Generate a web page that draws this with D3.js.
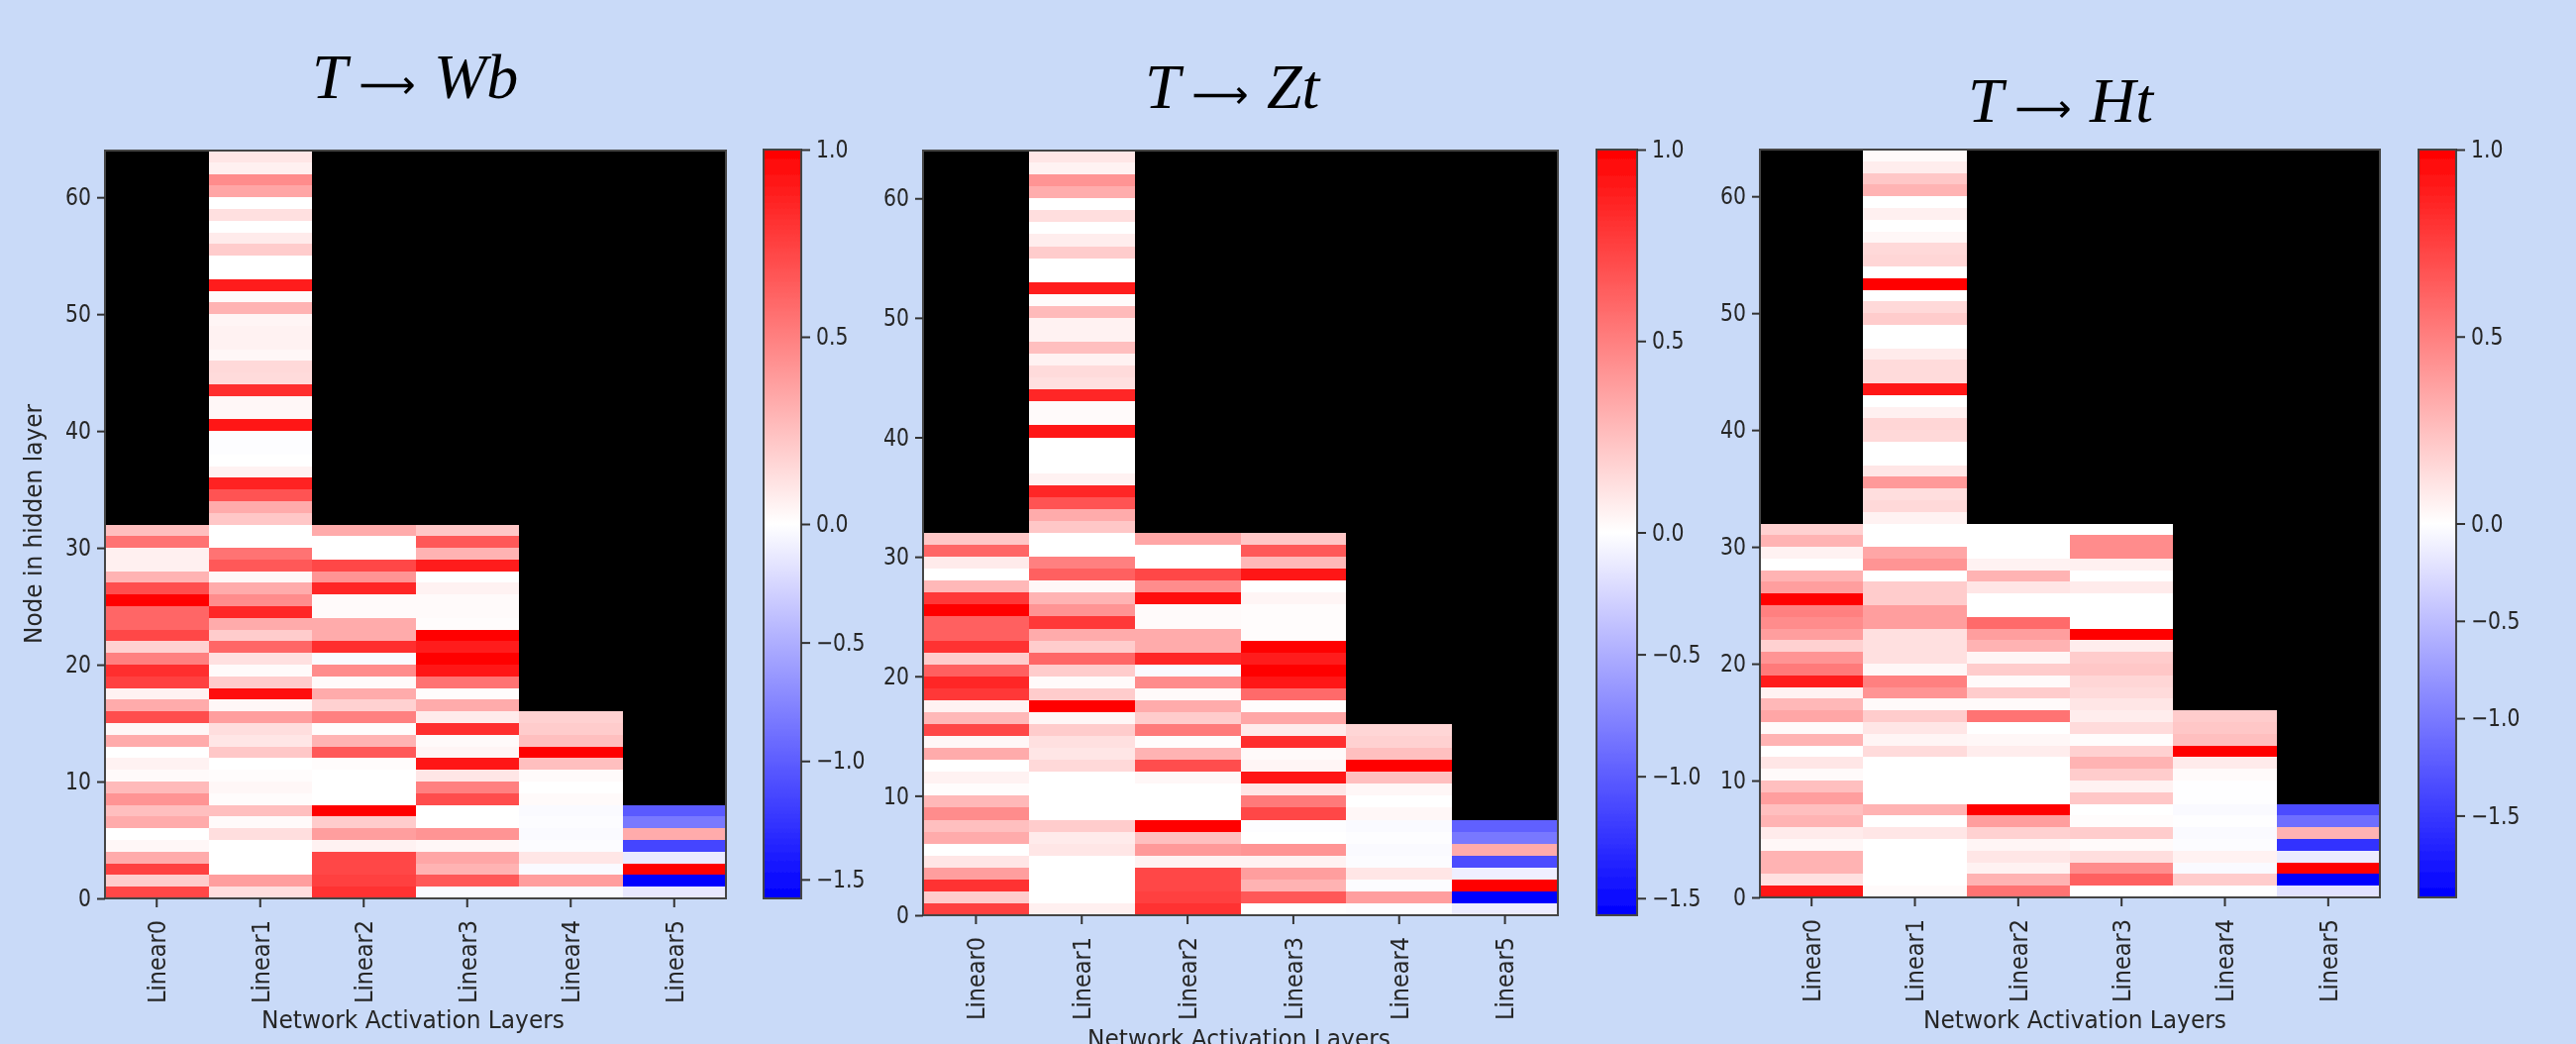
<!DOCTYPE html>
<html>
<head>
<meta charset="utf-8">
<script src="https://cdnjs.cloudflare.com/ajax/libs/d3/7.8.5/d3.min.js"></script>
<style>
	html, body { margin: 0; padding: 0; background: #c9daf8; overflow: hidden; }
	svg { display: block; }
	text { font-family: "DejaVu Sans", sans-serif; fill: #262626; }
	text.title { font-family: "Liberation Serif", "DejaVu Serif", serif; fill: #000; }
</style>
</head>
<body>
<script>
const width = 2601;
const height = 1054;

const layers = ["Linear0", "Linear1", "Linear2", "Linear3", "Linear4", "Linear5"];
const yTicks = [0, 10, 20, 30, 40, 50, 60];
const colorTicks = [1, 0.5, 0, -0.5, -1, -1.5];
const rowCount = 64;

// every list below runs from the top row of the column down to row 0

// T -> Wb
const wbLinear0 = [.25,.55,.06,.06,.3,.7,1,.6,.6,.72,.18,.5,.82,.75,.05,.33,.7,.03,.33,0,.05,.02,.27,.42,.25,.33,0,.03,.33,.75,.2,.72];
const wbLinear1 = [.1,.06,.45,.35,0,.12,0,.08,.2,0,0,.9,.02,.3,.04,.05,.05,.03,.15,.14,.82,.03,.03,.92,-.01,-.01,0,.05,.86,.68,.33,.22,
	0,0,.55,.65,.03,.33,.45,.85,.33,.2,.6,.12,.02,.2,.97,.03,.38,.13,.1,.22,0,.01,.03,.01,.25,.02,.13,0,0,0,.38,.13];
const wbLinear2 = [.33,0,0,.72,.42,.85,.02,.02,.33,.33,.82,-.03,.45,.02,.33,.18,.5,.01,.3,.65,.01,0,0,0,1,.2,.38,.05,.72,.72,.75,.8];
const wbLinear3 = [.22,.65,.3,.88,0,.05,.02,.02,.01,1,.88,1,.92,.55,.01,.33,.08,.82,.02,.04,.92,.1,.5,.7,0,0,.42,.03,.35,.3,.65,-.03];
const wbLinear4 = [.18,.2,.25,1,.25,.02,0,.02,-.03,-.02,-.03,-.02,.1,-.03,.38,-.03];
const wbLinear5 = [-1.02,-.83,.33,-1.15,-.13,1,-1.58,-.14];

// T -> Zt
const ztLinear0 = [.22,.6,.08,0,.28,.78,1,.62,.62,.8,.2,.62,.85,.78,.05,.28,.72,.03,.33,0,.05,.01,.28,.45,.25,.33,0,.1,.38,.8,.2,.75];
const ztLinear1 = [.1,.05,.42,.32,0,.13,0,.07,.2,0,0,.88,.02,.27,.05,.05,.25,.05,.14,.12,.85,.02,.02,.92,0,0,0,.05,.85,.68,.33,.22,
	0,0,.5,.62,.03,.3,.42,.78,.33,.2,.6,.2,.02,.2,1,.03,.2,.12,.1,.15,0,0,0,0,.2,.08,.1,0,0,0,0,.06];
const ztLinear2 = [.35,0,0,.72,.45,.95,.02,.02,.33,.33,.85,-.03,.45,.02,.33,.2,.52,.01,.3,.7,.03,0,0,0,1,.25,.4,.05,.72,.72,.75,.8];
const ztLinear3 = [.22,.65,.28,.92,0,.04,.01,.01,.01,1,.88,1,.92,.58,.01,.35,.08,.82,.02,.04,.92,.1,.52,.72,-.01,0,.42,.05,.38,.3,.65,0];
const ztLinear4 = [.16,.18,.25,1,.25,.03,0,.03,-.03,-.01,-.03,-.02,.1,-.02,.38,-.01];
const ztLinear5 = [-.98,-.83,.33,-1.1,-.1,1,-1.57,-.12];

// T -> Ht
const htLinear0 = [.18,.3,.05,0,.3,.38,1,.5,.45,.38,.18,.42,.52,.9,.05,.28,.35,.02,.3,0,.1,.02,.25,.38,.25,.3,.08,.03,.3,.3,.12,.92];
const htLinear1 = [.02,.07,.22,.3,0,.06,0,.03,.15,.16,0,1,0,.15,.2,0,0,.08,.14,.14,.92,0,.06,.16,.15,0,0,.1,.4,.13,.15,.05,
	0,0,.35,.42,0,.2,.2,.38,.38,.12,.12,.12,.03,.5,.42,.02,.2,.1,.04,.14,0,0,0,0,.3,0,.1,0,0,0,0,.02];
const htLinear2 = [0,0,0,.05,.3,.1,0,0,.58,.38,.3,.04,.2,.02,.2,.02,.55,0,.03,.07,0,0,0,0,1,.38,.18,.04,.1,.05,.3,.55];
const htLinear3 = [0,.45,.45,.06,0,.08,0,0,0,1,.07,.2,.22,.16,.14,.1,.07,.14,.01,.18,.3,.2,.05,.22,0,.01,.2,.02,.13,.45,.62,0];
const htLinear4 = [.2,.22,.25,1,.08,.02,-.01,-.01,-.04,-.01,-.04,-.02,.05,-.04,.2,-.01];
const htLinear5 = [-1.35,-1.09,.3,-1.55,-.15,1,-1.92,-.22];

const panels = [
	{ name: "wb", columns: [wbLinear0, wbLinear1, wbLinear2, wbLinear3, wbLinear4, wbLinear5], vmin: -1.58,
		x0: 106, x1: 733, y0: 907, y1: 152, barX: 771, barW: 38, barTop: 151, barBottom: 907, labelX: 417, labelY: 1038, showYLabel: true },
	{ name: "zt", columns: [ztLinear0, ztLinear1, ztLinear2, ztLinear3, ztLinear4, ztLinear5], vmin: -1.57,
		x0: 932, x1: 1573, y0: 924, y1: 152, barX: 1612, barW: 41, barTop: 151, barBottom: 924, labelX: 1251, labelY: 1057, showYLabel: false },
	{ name: "ht", columns: [htLinear0, htLinear1, htLinear2, htLinear3, htLinear4, htLinear5], vmin: -1.92,
		x0: 1777, x1: 2403, y0: 906, y1: 151, barX: 2442, barW: 38, barTop: 151, barBottom: 906, labelX: 2095, labelY: 1038, showYLabel: false }
];

const titles = [
	{ from: "T", to: "Wb", x: 315, y: 99 },
	{ from: "T", to: "Zt", x: 1156, y: 109 },
	{ from: "T", to: "Ht", x: 1987, y: 123 }
];

const svg = d3.select("body")
	.append("svg")
	.attr("width", width)
	.attr("height", height);

const defs = svg.append("defs");

// the source is a soft screenshot
defs.append("filter")
	.attr("id", "soft")
	.append("feGaussianBlur")
	.attr("stdDeviation", 0.7);

svg.append("rect")
	.attr("width", width)
	.attr("height", height)
	.attr("fill", "#c9daf8");

// tick text in the source is squeezed sideways
function styleTicks(selection) {
	selection.select(".domain").remove();
	selection.selectAll("line").attr("stroke", "#333").attr("stroke-width", 2);
	selection.selectAll("text")
		.style("font-size", "24px")
		.style("font-family", "DejaVu Sans")
		.attr("lengthAdjust", "spacingAndGlyphs")
		.attr("textLength", function() { return this.getComputedTextLength() * 0.85; });
}

panels.forEach((p) => {
	const x = d3.scaleBand()
		.domain(layers)
		.range([p.x0, p.x1]);

	const y = d3.scaleLinear()
		.domain([0, rowCount])
		.range([p.y0, p.y1]);

	// white sits at zero, the two sides have their own slope
	const color = d3.scaleLinear()
		.domain([p.vmin, 0, 1])
		.range(["#0000ff", "#ffffff", "#ff0000"]);

	const g = svg.append("g")
		.attr("filter", "url(#soft)");

	g.append("rect")
		.attr("x", p.x0)
		.attr("y", p.y1)
		.attr("width", p.x1 - p.x0)
		.attr("height", p.y0 - p.y1)
		.attr("fill", "#000");

	layers.forEach((layer, c) => {
		const values = p.columns[c];
		g.append("g")
			.selectAll("rect")
			.data(values)
			.enter()
			.append("rect")
			.attr("x", x(layer))
			.attr("y", (d, i) => y(values.length - i))
			.attr("width", x.bandwidth())
			.attr("height", (d, i) => y(values.length - i - 1) - y(values.length - i))
			.attr("fill", (d) => color(d))
			.attr("shape-rendering", "crispEdges");
	});

	// frame
	g.append("rect")
		.attr("x", p.x0)
		.attr("y", p.y1)
		.attr("width", p.x1 - p.x0)
		.attr("height", p.y0 - p.y1)
		.attr("fill", "none")
		.attr("stroke", "#444")
		.attr("stroke-width", 2);

	g.append("g")
		.attr("transform", "translate(" + p.x0 + ",0)")
		.call(d3.axisLeft(y).tickValues(yTicks).tickSize(8).tickPadding(6))
		.call(styleTicks);

	const xAxis = g.append("g")
		.attr("transform", "translate(0," + p.y0 + ")")
		.call(d3.axisBottom(x).tickSize(9));

	xAxis.select(".domain").remove();
	xAxis.selectAll("line").attr("stroke", "#333").attr("stroke-width", 2);
	xAxis.selectAll("text")
		.style("font-size", "25px")
		.style("font-family", "DejaVu Sans")
		.attr("transform", "rotate(-90)")
		.attr("text-anchor", "end")
		.attr("x", -22)
		.attr("y", 0)
		.attr("dy", "0.35em")
		.attr("lengthAdjust", "spacingAndGlyphs")
		.attr("textLength", 84);

	g.append("text")
		.attr("x", p.labelX)
		.attr("y", p.labelY)
		.attr("text-anchor", "middle")
		.attr("font-size", 25)
		.attr("textLength", 306)
		.attr("lengthAdjust", "spacingAndGlyphs")
		.text("Network Activation Layers");

	if (p.showYLabel) {
		g.append("text")
			.attr("transform", "translate(42,529) rotate(-90)")
			.attr("text-anchor", "middle")
			.attr("font-size", 24)
			.attr("textLength", 242)
			.attr("lengthAdjust", "spacingAndGlyphs")
			.text("Node in hidden layer");
	}

	// colorbar
	const barScale = d3.scaleLinear()
		.domain([p.vmin, 0, 1])
		.range([p.barBottom, (p.barTop + p.barBottom) / 2, p.barTop]);

	const gradient = defs.append("linearGradient")
		.attr("id", "bar-" + p.name)
		.attr("x1", 0).attr("x2", 0)
		.attr("y1", 1).attr("y2", 0);

	gradient.selectAll("stop")
		.data(color.domain())
		.enter()
		.append("stop")
		.attr("offset", (d) => (p.barBottom - barScale(d)) / (p.barBottom - p.barTop))
		.attr("stop-color", (d) => color(d));

	g.append("rect")
		.attr("x", p.barX)
		.attr("y", p.barTop)
		.attr("width", p.barW)
		.attr("height", p.barBottom - p.barTop)
		.attr("fill", "url(#bar-" + p.name + ")")
		.attr("stroke", "#444")
		.attr("stroke-width", 2);

	g.append("g")
		.attr("transform", "translate(" + (p.barX + p.barW) + ",0)")
		.call(d3.axisRight(barScale).tickValues(colorTicks).tickFormat(d3.format(".1f")).tickSize(9).tickPadding(6))
		.call(styleTicks);
});

const titleText = svg.selectAll("text.title")
	.data(titles)
	.enter()
	.append("text")
	.attr("class", "title")
	.attr("x", (d) => d.x)
	.attr("y", (d) => d.y)
	.attr("font-size", 64);

titleText.append("tspan").attr("font-style", "italic").text((d) => d.from);
titleText.append("tspan")
	.attr("dx", 12)
	.style("font-family", "DejaVu Sans")
	.attr("font-size", 40)
	.text("\u27f6");
titleText.append("tspan").attr("dx", 18).attr("font-style", "italic").text((d) => d.to);
</script>
</body>
</html>
